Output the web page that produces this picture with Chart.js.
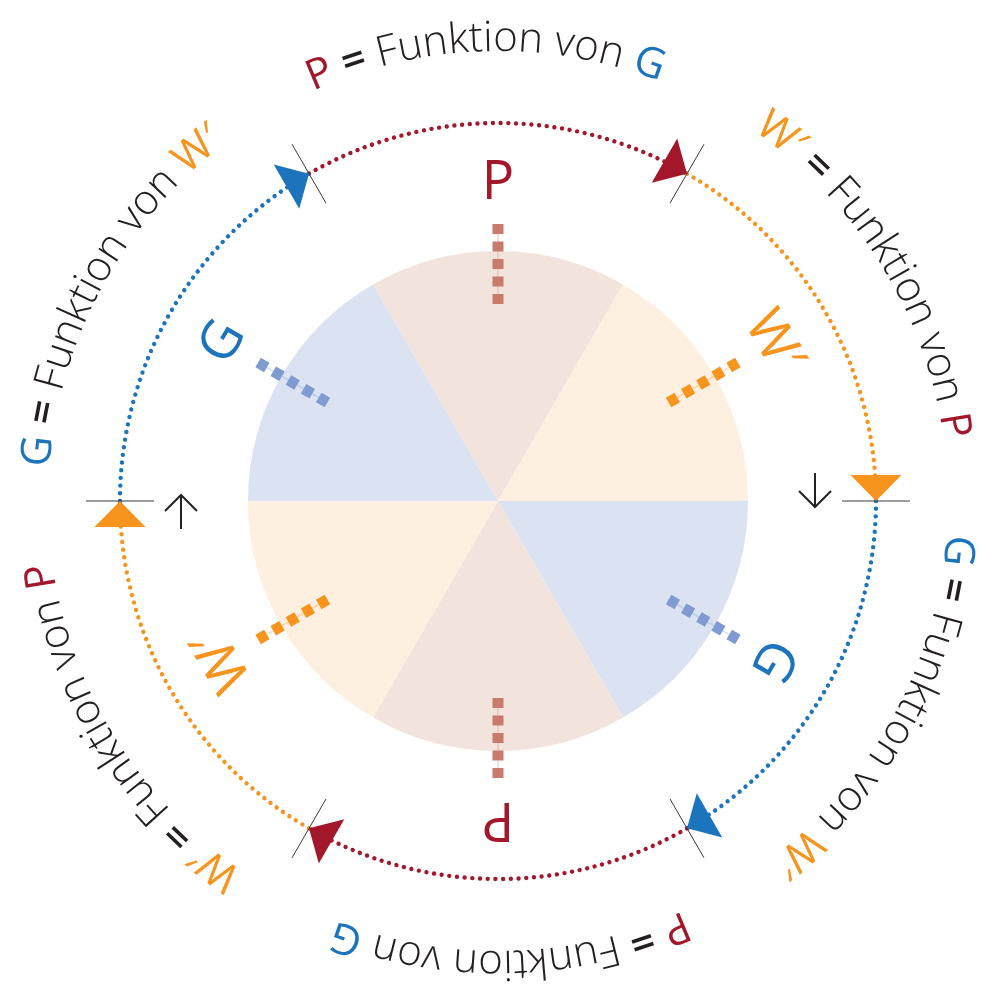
<!DOCTYPE html>
<html><head><meta charset="utf-8">
<script src="https://cdn.jsdelivr.net/npm/chart.js@4.4.1/dist/chart.umd.min.js"></script>
<style>html,body{margin:0;padding:0;background:#fff}#wrap{width:983px;height:987px}</style>
</head><body><div id="wrap"><canvas id="c" width="983" height="987"></canvas></div>
<script>
// ---- data ----
const categories = ['P', 'W′', 'G', 'P', 'W′', 'G'];
const sliceValues = [1, 1, 1, 1, 1, 1];
const sliceColors = ['#f2e4dd', '#fef0e1', '#dbe2f2', '#f2e4dd', '#fef0e1', '#dbe2f2'];
const markerColors = ['#c97b6b', '#f7941e', '#7f9bd2', '#c97b6b', '#f7941e', '#7f9bd2'];
const strongColors = ['#a3172b', '#f7941e', '#1c75bc', '#a3172b', '#f7941e', '#1c75bc'];
const dependsOn = ['G', 'P', 'W′', 'G', 'P', 'W′'];
const connectorParts = [' ', '=', ' Funktion von '];
const returnArrowSlices = [1, 4];

const letterColor = {'P': '#a3172b', 'W′': '#f7941e', 'G': '#1c75bc'};
const FONT = '"Open Sans", "Noto Sans", "DejaVu Sans", sans-serif';

const ringPlugin = {
  id: 'ring',
  afterDraw(chart) {
    const ctx = chart.ctx;
    const meta = chart.getDatasetMeta(0);
    const arcs = meta.data;
    const cx = arcs[0].x, cy = arcs[0].y;
    const R0 = arcs[0].outerRadius;
    const ringR = R0 * 1.512;
    const textR = R0 * 1.8;
    const textShift = -0.028;
    const labelR = R0 * 1.208;
    const mk1 = R0 * 1.108, mk0 = R0 * 0.788;
    const pt = (r, a) => [cx + r * Math.cos(a), cy + r * Math.sin(a)];

    arcs.forEach((arc, i) => {
      const s = arc.startAngle, e = arc.endAngle, m = (s + e) / 2;
      // dotted outer arc
      ctx.save();
      ctx.strokeStyle = strongColors[i];
      ctx.lineWidth = 4.4;
      ctx.lineCap = 'round';
      ctx.setLineDash([0.01, 7.7]);
      ctx.beginPath();
      ctx.arc(cx, cy, ringR, s, e);
      ctx.stroke();
      ctx.restore();

      // radial marker
      const [ax, ay] = pt(mk1, m), [bx, by] = pt(mk0, m);
      ctx.save();
      ctx.strokeStyle = markerColors[i];
      ctx.globalAlpha = 0.3;
      ctx.lineWidth = 1.5;
      ctx.beginPath(); ctx.moveTo(ax, ay); ctx.lineTo(bx, by); ctx.stroke();
      ctx.globalAlpha = 1;
      ctx.lineWidth = 11;
      ctx.setLineDash([10, 7.5]);
      ctx.beginPath(); ctx.moveTo(ax, ay); ctx.lineTo(bx, by); ctx.stroke();
      ctx.restore();

      // big label
      const [lx, ly] = pt(labelR, m);
      ctx.save();
      ctx.translate(lx, ly);
      ctx.rotate(m + Math.PI / 2);
      ctx.fillStyle = strongColors[i];
      ctx.font = '400 54px ' + FONT;
      ctx.textAlign = 'center';
      ctx.textBaseline = 'alphabetic';
      ctx.fillText(categories[i], 0, 0);
      ctx.restore();
    });

    // tick lines at boundaries
    arcs.forEach((arc) => {
      const a = arc.startAngle;
      const [x1, y1] = pt(ringR - 34, a), [x2, y2] = pt(ringR + 34, a);
      ctx.save();
      ctx.strokeStyle = '#3a3a3a';
      ctx.lineWidth = 1;
      ctx.beginPath(); ctx.moveTo(x1, y1); ctx.lineTo(x2, y2); ctx.stroke();
      ctx.restore();
    });

    // arrowheads at clockwise end of each arc
    arcs.forEach((arc, i) => {
      const e = arc.endAngle;
      const [tx, ty] = pt(ringR, e);
      const tan = [-Math.sin(e), Math.cos(e)];
      const nor = [Math.cos(e), Math.sin(e)];
      const L = 26, W = 25.5;
      const bx = tx - tan[0] * L, by = ty - tan[1] * L;
      ctx.save();
      ctx.fillStyle = strongColors[i];
      ctx.beginPath();
      ctx.moveTo(tx, ty);
      ctx.lineTo(bx + nor[0] * W, by + nor[1] * W);
      ctx.lineTo(bx - nor[0] * W, by - nor[1] * W);
      ctx.closePath();
      ctx.fill();
      ctx.restore();
    });

    // small black return arrows
    returnArrowSlices.forEach((i) => {
      const e = arcs[i].endAngle;
      const tan = [-Math.sin(e), Math.cos(e)];
      const nor = [Math.cos(e), Math.sin(e)];
      const r = R0 * 1.268;
      const [px, py] = pt(r, e);
      const tip = [px + tan[0] * 6, py + tan[1] * 6];
      const tail = [px - tan[0] * 28, py - tan[1] * 28];
      ctx.save();
      ctx.strokeStyle = '#222';
      ctx.lineWidth = 2;
      ctx.beginPath();
      ctx.moveTo(tail[0], tail[1]); ctx.lineTo(tip[0], tip[1]);
      ctx.moveTo(tip[0] - tan[0] * 16 + nor[0] * 16, tip[1] - tan[1] * 16 + nor[1] * 16);
      ctx.lineTo(tip[0], tip[1]);
      ctx.lineTo(tip[0] - tan[0] * 16 - nor[0] * 16, tip[1] - tan[1] * 16 - nor[1] * 16);
      ctx.stroke();
      ctx.restore();
    });

    // curved texts
    arcs.forEach((arc, i) => {
      const m = (arc.startAngle + arc.endAngle) / 2 + textShift;
      const parts = [
        [categories[i], letterColor[categories[i]], '400'],
        [connectorParts[0], '#231f20', '300'],
        [connectorParts[1], '#231f20', '600'],
        [connectorParts[2], '#231f20', '300'],
        [dependsOn[i], letterColor[dependsOn[i]], '400']
      ];
      const chars = [];
      parts.forEach(([txt, col, wt]) => {
        ctx.font = wt + ' 42px ' + FONT;
        for (const ch of txt) chars.push({ch, col, wt, w: ctx.measureText(ch).width});
      });
      const total = chars.reduce((a, c) => a + c.w, 0);
      let off = 0;
      const a0 = m - total / (2 * textR);
      chars.forEach((c) => {
        const a = a0 + (off + c.w / 2) / textR;
        off += c.w;
        if (c.ch === ' ') return;
        const [x, y] = pt(textR, a);
        ctx.save();
        ctx.translate(x, y);
        ctx.rotate(a + Math.PI / 2);
        ctx.font = c.wt + ' 42px ' + FONT;
        ctx.fillStyle = c.col;
        ctx.textAlign = 'center';
        ctx.textBaseline = 'alphabetic';
        ctx.fillText(c.ch, 0, 0);
        ctx.restore();
      });
    });
  }
};

new Chart(document.getElementById('c'), {
  type: 'pie',
  data: {
    labels: categories,
    datasets: [{data: sliceValues, backgroundColor: sliceColors, borderWidth: 0, hoverOffset: 0}]
  },
  options: {
    responsive: false,
    devicePixelRatio: 1,
    animation: false,
    rotation: -30,
    layout: {padding: {left: 248, right: 235, top: 251, bottom: 236}},
    plugins: {legend: {display: false}, tooltip: {enabled: false}}
  },
  plugins: [ringPlugin]
});
</script>
</body></html>
